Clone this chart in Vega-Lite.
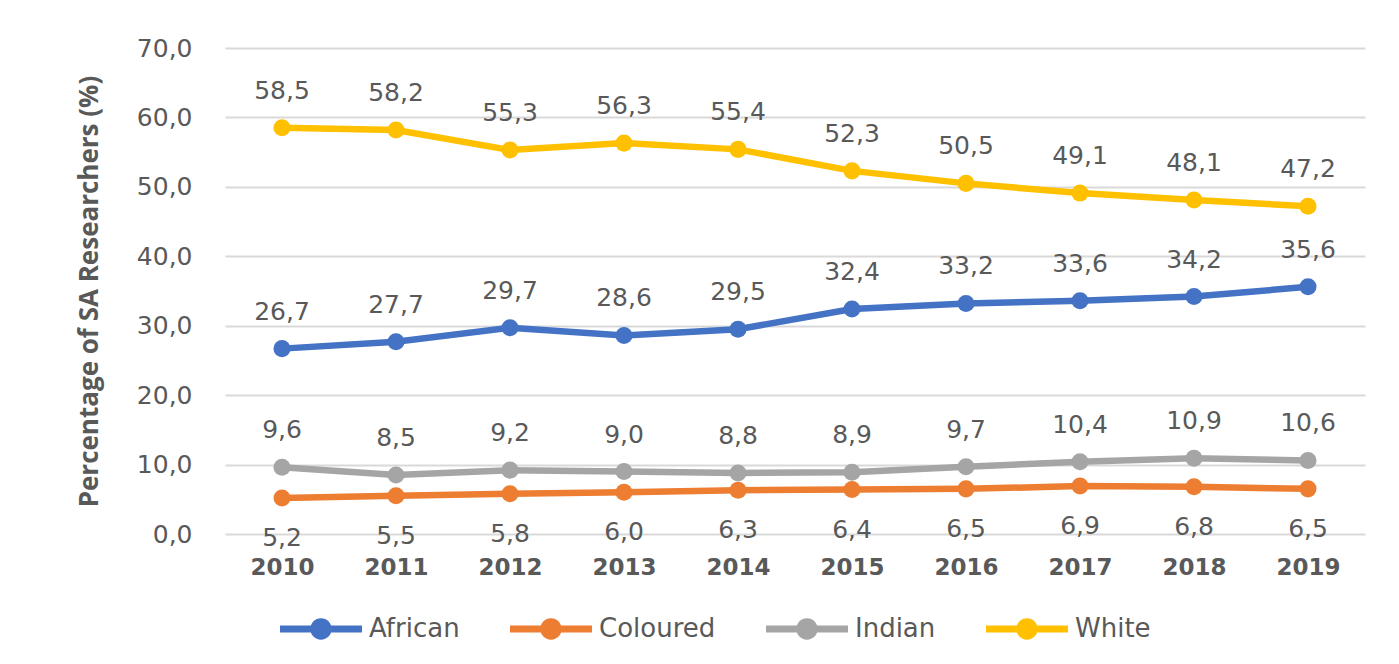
{
  "$schema": "https://vega.github.io/schema/vega-lite/v6.json",
  "width": 1140,
  "height": 486,
  "autosize": {"type": "none"},
  "padding": {"left": 225, "top": 48, "right": 34, "bottom": 130},
  "background": "white",
  "config": {
    "locale": {"number": {"decimal": ",", "thousands": ".", "grouping": [3], "currency": ["", ""]}},
    "view": {"stroke": null},
    "font": "DejaVu Sans"
  },
  "data": {
    "values": [
      {"year": "2010", "group": "African", "pct": 26.7},
      {"year": "2011", "group": "African", "pct": 27.7},
      {"year": "2012", "group": "African", "pct": 29.7},
      {"year": "2013", "group": "African", "pct": 28.6},
      {"year": "2014", "group": "African", "pct": 29.5},
      {"year": "2015", "group": "African", "pct": 32.4},
      {"year": "2016", "group": "African", "pct": 33.2},
      {"year": "2017", "group": "African", "pct": 33.6},
      {"year": "2018", "group": "African", "pct": 34.2},
      {"year": "2019", "group": "African", "pct": 35.6},
      {"year": "2010", "group": "Coloured", "pct": 5.2},
      {"year": "2011", "group": "Coloured", "pct": 5.5},
      {"year": "2012", "group": "Coloured", "pct": 5.8},
      {"year": "2013", "group": "Coloured", "pct": 6.0},
      {"year": "2014", "group": "Coloured", "pct": 6.3},
      {"year": "2015", "group": "Coloured", "pct": 6.4},
      {"year": "2016", "group": "Coloured", "pct": 6.5},
      {"year": "2017", "group": "Coloured", "pct": 6.9},
      {"year": "2018", "group": "Coloured", "pct": 6.8},
      {"year": "2019", "group": "Coloured", "pct": 6.5},
      {"year": "2010", "group": "Indian", "pct": 9.6},
      {"year": "2011", "group": "Indian", "pct": 8.5},
      {"year": "2012", "group": "Indian", "pct": 9.2},
      {"year": "2013", "group": "Indian", "pct": 9.0},
      {"year": "2014", "group": "Indian", "pct": 8.8},
      {"year": "2015", "group": "Indian", "pct": 8.9},
      {"year": "2016", "group": "Indian", "pct": 9.7},
      {"year": "2017", "group": "Indian", "pct": 10.4},
      {"year": "2018", "group": "Indian", "pct": 10.9},
      {"year": "2019", "group": "Indian", "pct": 10.6},
      {"year": "2010", "group": "White", "pct": 58.5},
      {"year": "2011", "group": "White", "pct": 58.2},
      {"year": "2012", "group": "White", "pct": 55.3},
      {"year": "2013", "group": "White", "pct": 56.3},
      {"year": "2014", "group": "White", "pct": 55.4},
      {"year": "2015", "group": "White", "pct": 52.3},
      {"year": "2016", "group": "White", "pct": 50.5},
      {"year": "2017", "group": "White", "pct": 49.1},
      {"year": "2018", "group": "White", "pct": 48.1},
      {"year": "2019", "group": "White", "pct": 47.2}
    ]
  },
  "encoding": {
    "x": {
      "field": "year", "type": "ordinal",
      "scale": {"type": "point", "padding": 0.5},
      "axis": {
        "title": null, "labelAngle": 0, "domain": false, "ticks": false, "grid": false,
        "labelFont": "DejaVu Sans", "labelFontSize": 23, "labelFontWeight": "bold",
        "labelColor": "#595959", "labelPadding": 22
      }
    },
    "y": {
      "field": "pct", "type": "quantitative",
      "scale": {"domain": [0, 70], "nice": false},
      "axis": {
        "title": "Percentage of SA Researchers (%)",
        "titleFont": "Open Sans", "titleFontSize": 26, "titleFontWeight": "bold", "titleColor": "#595959",
        "titlePadding": 34,
        "values": [0, 10, 20, 30, 40, 50, 60, 70], "format": ".1f",
        "domain": false, "ticks": false,
        "labelFont": "DejaVu Sans", "labelFontSize": 25, "labelColor": "#595959", "labelPadding": 33,
        "grid": true, "gridColor": "#D9D9D9", "gridWidth": 2
      }
    },
    "color": {
      "field": "group", "type": "nominal",
      "scale": {"domain": ["African", "Coloured", "Indian", "White"], "range": ["#4472C4", "#ED7D31", "#A5A5A5", "#FFC000"]},
      "legend": {
        "title": null, "orient": "none", "direction": "horizontal",
        "legendX": 55, "legendY": 540, "padding": 0,
        "labelFont": "DejaVu Sans", "labelFontSize": 26, "labelColor": "#595959",
        "symbolType": "M-1,-0.085L1,-0.085L1,0.085L-1,0.085Z M0.26,0A0.26,0.26,0,1,1,-0.26,0A0.26,0.26,0,1,1,0.26,0Z",
        "symbolSize": 6724, "symbolStrokeWidth": 0, "labelOffset": 7, "columnPadding": 50,
        "encode": {"symbols": {"update": {"fill": {"scale": "color", "field": "value"}, "strokeWidth": {"value": 0}, "opacity": {"value": 1}}}}
      }
    }
  },
  "layer": [
    {"mark": {"type": "line", "strokeWidth": 6.5, "point": {"filled": true, "size": 290, "opacity": 1}}},
    {
      "transform": [{"filter": "datum.group !== 'Coloured'"}],
      "mark": {"type": "text", "dy": -37, "fontSize": 25, "font": "DejaVu Sans"},
      "encoding": {"text": {"field": "pct", "type": "quantitative", "format": ".1f"}, "color": {"value": "#595959"}}
    },
    {
      "transform": [{"filter": "datum.group === 'Coloured'"}],
      "mark": {"type": "text", "dy": 40, "fontSize": 25, "font": "DejaVu Sans"},
      "encoding": {"text": {"field": "pct", "type": "quantitative", "format": ".1f"}, "color": {"value": "#595959"}}
    }
  ]
}
